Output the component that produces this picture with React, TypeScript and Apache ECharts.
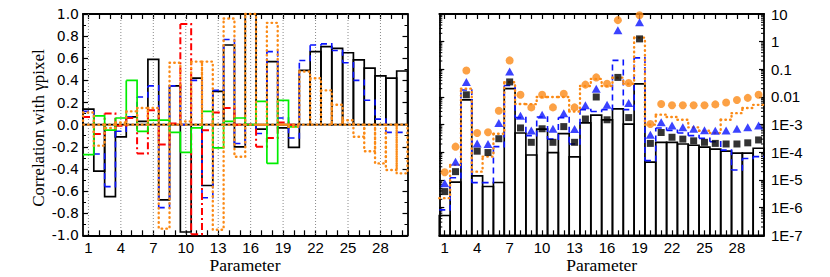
import React, { useEffect, useRef } from 'react';
import * as echarts from 'echarts';

// ---------- categories ----------
const parameters = ['1','2','3','4','5','6','7','8','9','10','11','12','13','14','15','16','17','18','19','20','21','22','23','24','25','26','27','28','29','30'];
const gridLineParams = [1, 4, 7, 10, 13, 16, 19, 22, 25, 28];

// ---------- left panel: correlation with gamma pixel ----------
const corrBlack = [0.14, -0.42, -0.65, -0.11, 0.07, 0.03, 0.59, -0.68, 0.35, -0.97, 0.42, -0.55, 0.30, 0.72, -0.20, 1.2, -0.04, 0.57, -0.03, -0.205, 0.49, 0.66, 0.705, 0.69, 0.65, 0.585, 0.51, 0.44, 0.42, 0.485];
const corrBlue = [0.12, -0.265, -0.56, -0.06, 0.07, 0.25, 0.35, -0.75, 0.35, 0.0, 0.40, -0.66, 0.31, 0.77, -0.17, 0.0, -0.08, 0.66, 0.06, -0.12, 0.58, 0.72, 0.73, 0.67, 0.56, 0.40, 0.22, 0.05, -0.07, -0.07];
const corrRed = [0.07, -0.085, 0.10, -0.01, 0.06, -0.26, 0.13, -0.18, 0.01, 0.91, -0.99, -0.05, 0.11, 0.15, 0.0, 0.0, -0.20, -0.12, 0.02, 0.0];
const corrGreen = [-0.27, 0.08, -0.05, 0.06, 0.40, -0.06, 0.04, 0.04, -0.07, -0.25, -0.03, 0.12, -0.21, 0.03, 0.06, 0.0, 0.21, -0.35, 0.22, -0.02];
const corrOrange = [0.11, -0.19, -0.03, 0.02, 0.12, 0.15, 0.15, -0.94, 0.56, 0.03, 0.57, 0.57, -0.95, 0.96, -0.29, 1.2, 0.0, 0.92, 0.0, -0.02, 0.48, 0.42, 0.31, 0.18, 0.04, -0.11, -0.24, -0.35, -0.41, -0.44];

// ---------- right panel: log scale ----------
const boxBlack = [5.2e-7, 8.3e-6, 7.9e-3, 1.4e-5, 5.8e-6, 8.1e-6, 0.020, 5.0e-4, 8e-5, 6.9e-4, 9.8e-5, 4.7e-4, 6.8e-5, 1.15e-3, 2.2e-3, 1.5e-3, 3.7e-3, 1.05e-3, 0.030, 4.4e-5, 2.3e-4, 2.3e-4, 2.0e-4, 1.8e-4, 1.55e-4, 1.3e-4, 1.1e-4, 9.3e-5, 9.3e-5, 1.4e-4];
const stepBlue = [8.3e-7, 1.2e-5, 0.018, 8e-6, 8e-6, 1.6e-4, 0.026, 1.8e-3, 4e-4, 1.9e-3, 3e-4, 1.8e-3, 2e-4, 3.5e-3, 3e-3, 3.5e-3, 0.21, 3.5e-3, 0.26, 5e-5, 7.6e-4, 6.2e-4, 5e-4, 4e-4, 3.2e-4, 2.4e-4, 1.2e-4, 2.3e-5, 6e-5, 7e-5];
const stepOrange = [2.2e-6, 3.5e-5, 0.02, 2e-5, 7e-5, 4.7e-4, 0.034, 5.6e-3, 5.5e-3, 0.010, 0.010, 0.010, 3e-3, 0.025, 0.045, 0.025, 0.05, 0.03, 1.4, 1e-3, 2.3e-3, 1.9e-3, 1.5e-3, 8e-4, 6e-4, 5e-4, 1.5e-3, 2.6e-3, 4e-3, 5.2e-3];
const markSquare = [3.8e-6, 2.0e-5, 0.012, 1.1e-4, 9.8e-5, 3.1e-4, 0.035, 7.6e-4, 2.3e-4, 7.1e-4, 2.3e-4, 8.5e-4, 2.3e-4, 1.6e-3, 0.010, 1.5e-3, 0.051, 1.8e-3, 1.26, 2.1e-4, 5.2e-4, 3.5e-4, 3.0e-4, 2.6e-4, 2.3e-4, 2.1e-4, 2.0e-4, 2.0e-4, 2.2e-4, 2.8e-4];
const markTriangle = [7.6e-6, 4.6e-5, 0.035, 2.1e-4, 2.0e-4, 1.15e-3, 0.083, 2.1e-3, 6.2e-4, 2.3e-3, 7.1e-4, 2.6e-3, 7e-4, 5.0e-3, 0.020, 5.2e-3, 2.6, 6e-3, 5.0, 4.3e-4, 1.23e-3, 9.3e-4, 8e-4, 7.1e-4, 6.3e-4, 6e-4, 6.1e-4, 7.1e-4, 8.1e-4, 9.3e-4];
const markCircle = [1.9e-5, 1.6e-4, 0.091, 5.0e-4, 5.3e-4, 3.2e-3, 0.21, 0.012, 4.2e-3, 0.012, 4.2e-3, 0.013, 4.2e-3, 0.028, 0.051, 0.03, 6.0, 0.032, 9.0, 1.05e-3, 5.6e-3, 5.0e-3, 5e-3, 5e-3, 5e-3, 5.4e-3, 6.3e-3, 7.8e-3, 9.3e-3, 0.012];

const LOG_MIN = 1e-7;
const LOG_MAX = 10;

const BLACK = '#000000';
const BLUE = '#0a14ff';
const RED = '#ff0000';
const GREEN = '#00ee00';
const ORANGE = '#fb8a16';

const SANS = '"Liberation Sans", Arial, sans-serif';
const SERIF = '"Liberation Serif", "Times New Roman", serif';

const clampY = (cs: any, y: number) => Math.min(cs.y + cs.height, Math.max(cs.y, y));

function boxRender(base: number, stroke: string, lineWidth: number, lineDash: number[] | null, lineCap: string = 'butt') {
  return (params: any, api: any) => {
    const cs = params.coordSys;
    const idx = api.value(0);
    const val = api.value(1);
    const w = api.size([1, 0])[0];
    const pTop = api.coord([idx, val]);
    const pBase = api.coord([idx, base]);
    const y1 = clampY(cs, pTop[1]);
    const y2 = clampY(cs, pBase[1]);
    return {
      type: 'rect',
      shape: { x: pTop[0] - w / 2, y: Math.min(y1, y2), width: w, height: Math.abs(y2 - y1) },
      style: { fill: 'none', stroke, lineWidth, lineDash: lineDash || undefined, lineCap },
    };
  };
}

function stepRender(values: number[], stroke: string, lineWidth: number, lineDash: number[] | null, lineCap: string = 'butt') {
  return (params: any, api: any) => {
    const cs = params.coordSys;
    const idx = api.value(0);
    const val = api.value(1);
    const w = api.size([1, 0])[0];
    const p = api.coord([idx, val]);
    const y = clampY(cs, p[1]);
    const pts: number[][] = [[p[0] - w / 2, y], [p[0] + w / 2, y]];
    if (idx + 1 < values.length) {
      const y2 = clampY(cs, api.coord([idx + 1, values[idx + 1]])[1]);
      pts.push([p[0] + w / 2, y2]);
    }
    return {
      type: 'polyline',
      shape: { points: pts },
      style: { fill: 'none', stroke, lineWidth, lineDash: lineDash || undefined, lineCap, lineJoin: 'miter' },
    };
  };
}

function boxSeries(values: number[], xi: number, yi: number, base: number, stroke: string, lw: number, dash: number[] | null, z: number, cap = 'butt') {
  return {
    type: 'custom', xAxisIndex: xi, yAxisIndex: yi,
    data: values.map((v, i) => [i, v]),
    encode: { x: 0, y: 1 },
    renderItem: boxRender(base, stroke, lw, dash, cap),
    clip: false, silent: true, z,
  };
}

function stepSeries(values: number[], xi: number, yi: number, stroke: string, lw: number, dash: number[] | null, z: number, cap = 'butt') {
  return {
    type: 'custom', xAxisIndex: xi, yAxisIndex: yi,
    data: values.map((v, i) => [i, v]),
    encode: { x: 0, y: 1 },
    renderItem: stepRender(values, stroke, lw, dash, cap),
    clip: false, silent: true, z,
  };
}

const logLabel = (v: number) => {
  const e = Math.round(Math.log10(v));
  if (e >= 0) return String(Math.pow(10, e));
  if (e >= -2) return Math.pow(10, e).toFixed(-e);
  return '1E' + e;
};

export default function App() {
  const ref = useRef<HTMLDivElement>(null);

  useEffect(() => {
    if (!ref.current) return;
    const chart = echarts.init(ref.current, undefined, { renderer: 'svg' });

    const gridL = { left: 83, top: 14, width: 324.5, height: 221.3, containLabel: false, outerBoundsMode: 'none' };
    const gridR = { left: 439.3, top: 14, width: 324.7, height: 221.3, containLabel: false, outerBoundsMode: 'none' };

    const axisLine = { show: true, onZero: false, lineStyle: { color: BLACK, width: 1.8 } };

    const catAxis = (gridIndex: number, position: string, showLabel: boolean) => ({
      type: 'category', gridIndex, position,
      data: parameters,
      boundaryGap: true,
      axisLine,
      axisTick: { show: true, inside: true, alignWithLabel: true, interval: 0, length: 5, lineStyle: { color: BLACK, width: 1.2 } },
      axisLabel: { show: showLabel, interval: 2, margin: 6.5, lineHeight: 11, color: BLACK, fontFamily: SANS, fontSize: 15 },
      splitLine: { show: false },
    });

    const corrAxis = (position: string, showLabel: boolean) => ({
      type: 'value', gridIndex: 0, position,
      min: -1, max: 1, interval: 0.2,
      axisLine,
      axisTick: { show: true, inside: true, length: 5, lineStyle: { color: BLACK, width: 1.2 } },
      minorTick: { show: true, splitNumber: 2, length: 3, lineStyle: { color: BLACK, width: 1 } },
      axisLabel: { show: showLabel, margin: 4, color: BLACK, fontFamily: '"DejaVu Sans", sans-serif', fontSize: 14, formatter: (v: number) => v.toFixed(1) },
      splitLine: { show: false },
    });

    const logAxis = (position: string, showLabel: boolean) => ({
      type: 'log', gridIndex: 1, position,
      logBase: 10, min: LOG_MIN, max: LOG_MAX, splitNumber: 8, interval: 1,
      axisLine,
      axisTick: { show: true, inside: true, length: 5, lineStyle: { color: BLACK, width: 1.2 } },
      axisLabel: { show: showLabel, margin: 7, color: BLACK, fontFamily: SANS, fontSize: 15, formatter: logLabel },
      splitLine: { show: false },
    });

    const minorLogTicks: number[][] = [];
    for (let d = -7; d < 1; d++) {
      for (let k = 2; k <= 9; k++) minorLogTicks.push([0, k * Math.pow(10, d)]);
    }

    const textStyle = (text: string, font: string) => ({
      text, font, fill: BLACK, textAlign: 'center', textVerticalAlign: 'middle', verticalAlign: 'middle', lineHeight: 13,
    });

    const option: any = {
      animation: false,
      backgroundColor: '#ffffff',
      grid: [gridL, gridR],
      xAxis: [
        catAxis(0, 'bottom', true),
        catAxis(0, 'top', false),
        catAxis(1, 'bottom', true),
        catAxis(1, 'top', false),
      ],
      yAxis: [
        corrAxis('left', true),
        corrAxis('right', false),
        logAxis('right', true),
        logAxis('left', false),
      ],
      graphic: [
        { type: 'text', x: 38, y: 128, rotation: Math.PI / 2, style: textStyle('Correlation with γpixel', '17px ' + SERIF) },
        { type: 'text', x: 245, y: 264.5, style: textStyle('Parameter', '17.5px ' + SERIF) },
        { type: 'text', x: 601.7, y: 264.5, style: textStyle('Parameter', '17.5px ' + SERIF) },
      ],
      series: [
        {
          type: 'custom', xAxisIndex: 0, yAxisIndex: 0,
          data: gridLineParams.map((p) => [p - 1, 0]),
          encode: { x: 0, y: 1 },
          clip: false, silent: true, z: 1,
          renderItem: (params: any, api: any) => {
            const cs = params.coordSys;
            const x = api.coord([api.value(0), 0])[0];
            return {
              type: 'line',
              shape: { x1: x, y1: cs.y, x2: x, y2: cs.y + cs.height },
              style: { stroke: '#8a8a8a', lineWidth: 1, lineDash: [1, 2] },
            };
          },
        },
        // left panel
        boxSeries(corrBlack, 0, 0, 0, BLACK, 1.7, null, 2),
        stepSeries(corrBlue, 0, 0, BLUE, 1.6, [6, 4], 3),
        stepSeries(corrRed, 0, 0, RED, 2, [7, 3, 2, 3], 4),
        stepSeries(corrGreen, 0, 0, GREEN, 1.7, null, 5),
        boxSeries(corrOrange, 0, 0, 0, ORANGE, 2.4, [0.5, 4.2], 6, 'round'),

        // right panel minor log ticks
        {
          type: 'custom', xAxisIndex: 2, yAxisIndex: 2,
          data: minorLogTicks,
          encode: { x: 0, y: 1 },
          clip: false, silent: true, z: 1,
          renderItem: (params: any, api: any) => {
            const cs = params.coordSys;
            const y = api.coord([0, api.value(1)])[1];
            return {
              type: 'group',
              children: [
                { type: 'line', shape: { x1: cs.x, y1: y, x2: cs.x + 3, y2: y }, style: { stroke: BLACK, lineWidth: 1 } },
                { type: 'line', shape: { x1: cs.x + cs.width - 3, y1: y, x2: cs.x + cs.width, y2: y }, style: { stroke: BLACK, lineWidth: 1 } },
              ],
            };
          },
        },
        // right panel boxes and steps
        boxSeries(boxBlack, 2, 2, LOG_MIN, BLACK, 1.7, null, 2),
        stepSeries(stepBlue, 2, 2, BLUE, 1.6, [6, 4], 3),
        stepSeries(stepOrange, 2, 2, ORANGE, 2.4, [0.5, 4.2], 4, 'round'),
        // markers
        {
          type: 'scatter', xAxisIndex: 2, yAxisIndex: 2,
          data: markCircle.map((v, i) => [i, v]),
          symbol: 'circle', symbolSize: 8,
          itemStyle: { color: ORANGE },
          clip: false, silent: true, z: 7,
        },
        {
          type: 'scatter', xAxisIndex: 2, yAxisIndex: 2,
          data: markTriangle.map((v, i) => [i, v]),
          symbol: 'triangle', symbolSize: [9, 8],
          itemStyle: { color: BLUE },
          clip: false, silent: true, z: 8,
        },
        {
          type: 'scatter', xAxisIndex: 2, yAxisIndex: 2,
          data: markSquare.map((v, i) => [i, v]),
          symbol: 'rect', symbolSize: 7,
          itemStyle: { color: BLACK },
          clip: false, silent: true, z: 9,
        },
      ],
    };

    chart.setOption(option);
    return () => chart.dispose();
  }, []);

  return (
    <div
      ref={ref}
      style={{ position: 'fixed', left: 0, top: 0, width: 830, height: 277, background: '#fff' }}
    />
  );
}
